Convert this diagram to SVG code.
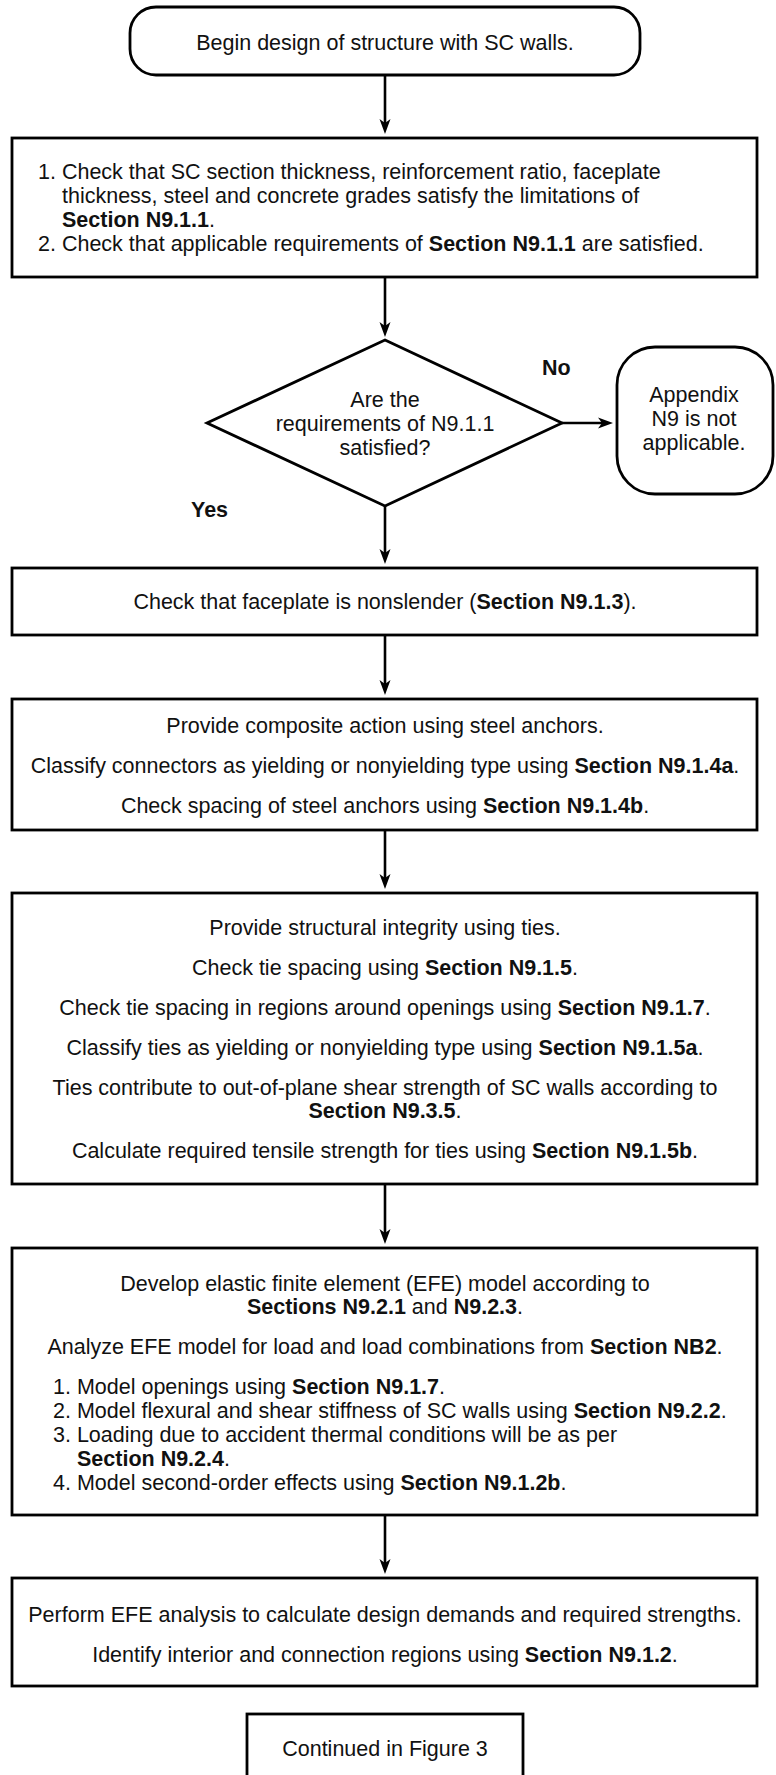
<svg xmlns="http://www.w3.org/2000/svg" width="776" height="1775" viewBox="0 0 776 1775">
<style>
.box{fill:#fff;stroke:#000;stroke-width:2.8}
.t{font-family:"Liberation Sans",Arial,sans-serif;font-size:21.5px;fill:#111}
.c{text-anchor:middle}
.b{font-weight:bold}
.conn{stroke:#000;stroke-width:2.6;fill:none}
</style>
<defs>
<marker id="ah" markerUnits="userSpaceOnUse" viewBox="-16 -7 17 14" refX="-8" refY="0" markerWidth="17" markerHeight="14" orient="auto">
<path d="M0,0 L-15,-5.5 L-11,0 L-15,5.5 Z" fill="#000"/>
</marker>
</defs>
<rect width="776" height="1775" fill="#fff"/>
<g id="connectors">
<line class="conn" x1="385" y1="75" x2="385" y2="126" marker-end="url(#ah)"/>
<line class="conn" x1="385" y1="277" x2="385" y2="329" marker-end="url(#ah)"/>
<line class="conn" x1="562" y1="423" x2="605" y2="423" marker-end="url(#ah)"/>
<line class="conn" x1="385" y1="506" x2="385" y2="556" marker-end="url(#ah)"/>
<line class="conn" x1="385" y1="635" x2="385" y2="687" marker-end="url(#ah)"/>
<line class="conn" x1="385" y1="830" x2="385" y2="881" marker-end="url(#ah)"/>
<line class="conn" x1="385" y1="1184" x2="385" y2="1236" marker-end="url(#ah)"/>
<line class="conn" x1="385" y1="1515" x2="385" y2="1566" marker-end="url(#ah)"/>
<text class="t b" x="542" y="375">No</text>
<text class="t b" x="191" y="517">Yes</text>
</g>
<g id="start">
<rect class="box" x="130" y="7" width="510" height="68" rx="26"/>
<text class="t c" x="385" y="50">Begin design of structure with SC walls.</text>
</g>
<g id="check-limits">
<rect class="box" x="12" y="138" width="745" height="139"/>
<text class="t" x="38" y="179">1. Check that SC section thickness, reinforcement ratio, faceplate</text>
<text class="t" x="62" y="203">thickness, steel and concrete grades satisfy the limitations of</text>
<text class="t" x="62" y="227"><tspan class="b">Section N9.1.1</tspan>.</text>
<text class="t" x="38" y="251">2. Check that applicable requirements of <tspan class="b">Section N9.1.1</tspan> are satisfied.</text>
</g>
<g id="decision">
<polygon class="box" points="385,340 562,423 385,506 207,423"/>
<text class="t c" x="385" y="407">Are the</text>
<text class="t c" x="385" y="431">requirements of N9.1.1</text>
<text class="t c" x="385" y="455">satisfied?</text>
</g>
<g id="not-applicable">
<rect class="box" x="617" y="347" width="156" height="147" rx="38"/>
<text class="t c" x="694" y="402">Appendix</text>
<text class="t c" x="694" y="426">N9 is not</text>
<text class="t c" x="694" y="450">applicable.</text>
</g>
<g id="faceplate">
<rect class="box" x="12" y="568" width="745" height="67"/>
<text class="t c" x="385" y="609">Check that faceplate is nonslender (<tspan class="b">Section N9.1.3</tspan>).</text>
</g>
<g id="anchors">
<rect class="box" x="12" y="699" width="745" height="131"/>
<text class="t c" x="385" y="733">Provide composite action using steel anchors.</text>
<text class="t c" x="385" y="773">Classify connectors as yielding or nonyielding type using <tspan class="b">Section N9.1.4a</tspan>.</text>
<text class="t c" x="385" y="813">Check spacing of steel anchors using <tspan class="b">Section N9.1.4b</tspan>.</text>
</g>
<g id="ties">
<rect class="box" x="12" y="893" width="745" height="291"/>
<text class="t c" x="385" y="935">Provide structural integrity using ties.</text>
<text class="t c" x="385" y="975">Check tie spacing using <tspan class="b">Section N9.1.5</tspan>.</text>
<text class="t c" x="385" y="1015">Check tie spacing in regions around openings using <tspan class="b">Section N9.1.7</tspan>.</text>
<text class="t c" x="385" y="1055">Classify ties as yielding or nonyielding type using <tspan class="b">Section N9.1.5a</tspan>.</text>
<text class="t c" x="385" y="1095">Ties contribute to out-of-plane shear strength of SC walls according to</text>
<text class="t c" x="385" y="1118"><tspan class="b">Section N9.3.5</tspan>.</text>
<text class="t c" x="385" y="1158">Calculate required tensile strength for ties using <tspan class="b">Section N9.1.5b</tspan>.</text>
</g>
<g id="efe-model">
<rect class="box" x="12" y="1248" width="745" height="267"/>
<text class="t c" x="385" y="1291">Develop elastic finite element (EFE) model according to</text>
<text class="t c" x="385" y="1314"><tspan class="b">Sections N9.2.1</tspan> and <tspan class="b">N9.2.3</tspan>.</text>
<text class="t c" x="385" y="1354">Analyze EFE model for load and load combinations from <tspan class="b">Section NB2</tspan>.</text>
<text class="t" x="53" y="1394">1. Model openings using <tspan class="b">Section N9.1.7</tspan>.</text>
<text class="t" x="53" y="1418">2. Model flexural and shear stiffness of SC walls using <tspan class="b">Section N9.2.2</tspan>.</text>
<text class="t" x="53" y="1442">3. Loading due to accident thermal conditions will be as per</text>
<text class="t" x="77" y="1466"><tspan class="b">Section N9.2.4</tspan>.</text>
<text class="t" x="53" y="1490">4. Model second-order effects using <tspan class="b">Section N9.1.2b</tspan>.</text>
</g>
<g id="efe-analysis">
<rect class="box" x="12" y="1578" width="745" height="108"/>
<text class="t c" x="385" y="1622">Perform EFE analysis to calculate design demands and required strengths.</text>
<text class="t c" x="385" y="1662">Identify interior and connection regions using <tspan class="b">Section N9.1.2</tspan>.</text>
</g>
<g id="continued">
<rect class="box" x="247" y="1714" width="276" height="80"/>
<text class="t c" x="385" y="1756">Continued in Figure 3</text>
</g>
</svg>
